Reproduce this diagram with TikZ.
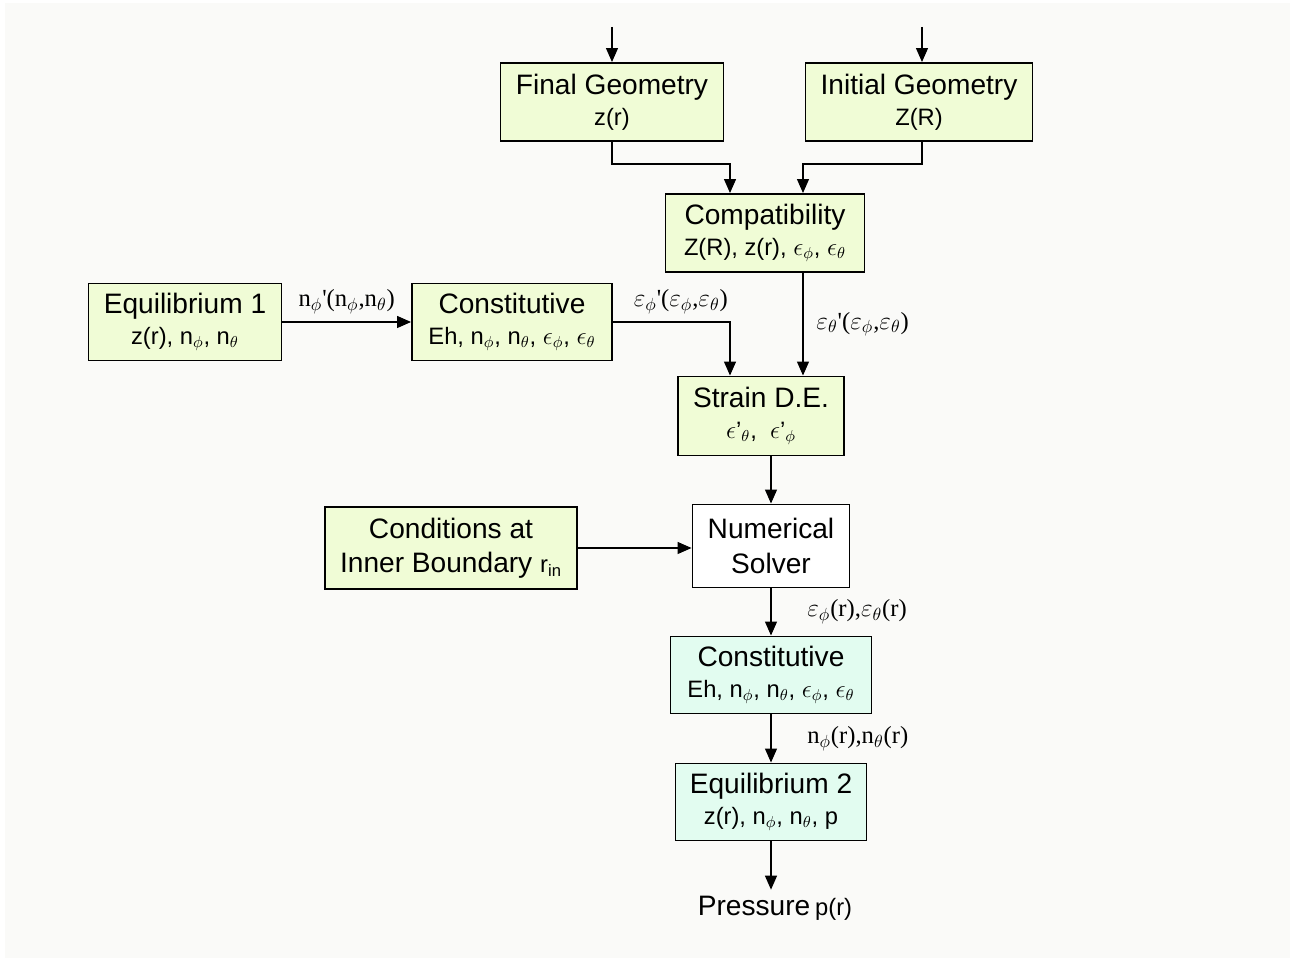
\documentclass[tikz,border=0pt]{standalone}
\usepackage{fontspec}
\setmainfont{Liberation Sans}
\newfontfamily\tms{Liberation Serif}
\usetikzlibrary{arrows.meta}
\definecolor{boxyellow}{RGB}{240,252,214}
\definecolor{boxcyan}{RGB}{226,252,240}
\definecolor{paper}{RGB}{250,250,248}
\newcommand{\ttl}[1]{{\fontsize{16}{19}\selectfont #1}}
\newcommand{\sml}[1]{{\fontsize{13.5}{16}\selectfont #1}}
\newcommand{\lbl}[1]{{\fontsize{14}{16}\selectfont\tms #1}}
\tikzset{
  blk/.style={draw,line width=1.1pt,fill=boxyellow,align=center,inner sep=2pt,
    font=\fontsize{16}{17.5}\selectfont},
  flow/.style={line width=0.7pt,-{Triangle[length=0.28cm,width=0.24cm]}},
}
\begin{document}
\begin{tikzpicture}[x=0.02cm,y=-0.02cm]
		\useasboundingbox (0,0) rectangle (1303,962);
		\fill[paper] (5,3) rectangle (1290,958);
		\node[blk,minimum width=4.46cm,minimum height=1.56cm] (fg) at (612,102) {\ttl{Final Geometry}\\\sml{z(r)}};
		\node[blk,minimum width=4.54cm,minimum height=1.56cm] (ig) at (919,102) {\ttl{Initial Geometry}\\\sml{Z(R)}};
		\node[blk,minimum width=3.98cm,minimum height=1.56cm] (cp) at (765,233) {\ttl{Compatibility}\\\sml{Z(R), z(r), $\epsilon_\phi$, $\epsilon_\theta$}};
		\node[blk,minimum width=3.86cm,minimum height=1.54cm] (eq1) at (185,322) {\ttl{Equilibrium 1}\\\sml{z(r), n$_\phi$, n$_\theta$}};
		\node[blk,minimum width=4.0cm,minimum height=1.54cm] (con) at (512,322) {\ttl{Constitutive}\\\sml{Eh, n$_\phi$, n$_\theta$, $\epsilon_\phi$, $\epsilon_\theta$}};
		\node[blk,minimum width=3.32cm,minimum height=1.58cm] (sd) at (761,416) {\ttl{Strain D.E.}\\\sml{$\epsilon$'$_\theta$,\; $\epsilon$'$_\phi$}};
		\node[blk,fill=white,minimum width=3.14cm,minimum height=1.66cm] (ns) at (771,546) {\ttl{Numerical}\\[2pt]\ttl{Solver}};
		\node[blk,minimum width=5.04cm,minimum height=1.64cm] (cond) at (451,548) {\ttl{Conditions at}\\[2pt]\ttl{Inner Boundary} \sml{r$_\mathrm{in}$}};
		\node[blk,fill=boxcyan,minimum width=4.02cm,minimum height=1.54cm] (con2) at (771,675) {\ttl{Constitutive}\\\sml{Eh, n$_\phi$, n$_\theta$, $\epsilon_\phi$, $\epsilon_\theta$}};
		\node[blk,fill=boxcyan,minimum width=3.82cm,minimum height=1.54cm] (eq2) at (771,802) {\ttl{Equilibrium 2}\\\sml{z(r), n$_\phi$, n$_\theta$, p}};
		\node (pr) at (775,908) {\ttl{Pressure} \sml{p(r)}};
		\coordinate (fgin) at (612,27);
		\coordinate (igin) at (922,27);

		\draw[flow] (fgin) -- (fgin |- fg.north);
		\draw[flow] (igin) -- (igin |- ig.north);
		\draw[flow] (fg.south) -- ++(0,22) -| ([xshift=-0.7cm]cp.north);
		\draw[flow] (igin |- ig.south) -- ++(0,22) -| ([xshift=0.76cm]cp.north);
		\draw[flow] (eq1.east) -- (eq1.east -| con.west) node[midway,above=1pt] {\lbl{n$_\phi$'(n$_\phi$,n$_\theta$)}};
		\draw[flow] (con.east) -| ([xshift=-0.62cm]sd.north) node[pos=0.29,above=1pt] {\lbl{$\varepsilon_\phi$'($\varepsilon_\phi$,$\varepsilon_\theta$)}};
		\draw[flow] ([xshift=0.76cm]cp.south) -- ([xshift=0.76cm]cp.south |- sd.north) node[midway,right=4pt] {\lbl{$\varepsilon_\theta$'($\varepsilon_\phi$,$\varepsilon_\theta$)}};
		\draw[flow] (ns.north |- sd.south) -- (ns.north);
		\draw[flow] (cond.east) -- (cond.east -| ns.west);
		\draw[flow] (ns.south) -- (con2.north) node[midway,right=17pt] {\lbl{$\varepsilon_\phi$(r),$\varepsilon_\theta$(r)}};
		\draw[flow] (con2.south) -- (eq2.north) node[midway,right=17pt] {\lbl{n$_\phi$(r),n$_\theta$(r)}};
		\draw[flow] (eq2.south) -- (eq2.south |- pr.north);
		\end{tikzpicture}
\end{document}
